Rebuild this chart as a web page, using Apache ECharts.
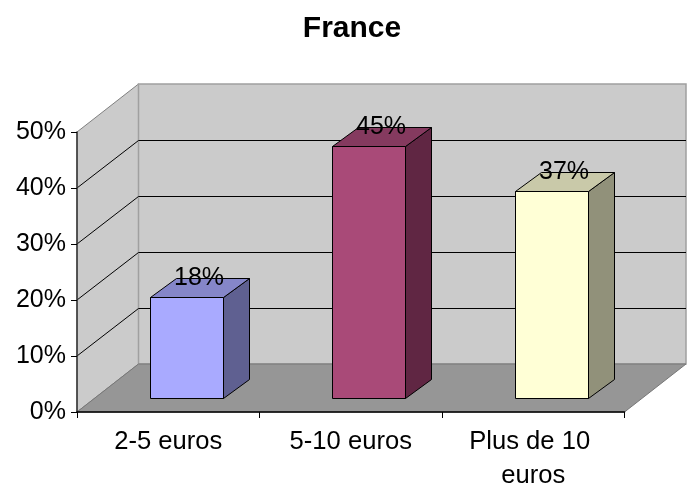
<!DOCTYPE html>
<html>
<head>
<meta charset="utf-8">
<title>France</title>
<script src="https://cdn.jsdelivr.net/npm/echarts@6/dist/echarts.min.js"></script>
<style>
  html, body { margin: 0; padding: 0; background: #fff; }
  #chart { width: 695px; height: 487px; }
</style>
</head>
<body>
<div id="chart"></div>
<script>
const categories = ['2-5 euros', '5-10 euros', 'Plus de 10 euros']
const shares = [18, 45, 37]
const gridValues = [10, 20, 30, 40]

// front, side, top of each bar
const barFaces = [
  ['#a9aaff', '#5f6091', '#8586c9'],
  ['#a94a78', '#602643', '#853a5f'],
  ['#ffffd6', '#91917a', '#c9c9a9']
]

const fontFamily = '"Liberation Sans", Arial, sans-serif'

// fake 3d: how far the back wall sits from the axes, and the depth of a bar
const wallDx = 61.5
const wallDy = 48
const barDx = 26
const barDy = 19
const barShiftX = 18
const barShiftY = 14
const barWidthRatio = 0.4

const chart = echarts.init(document.getElementById('chart'))

// keep 1px lines on a single pixel row
function crisp(v) {
  return Math.round(v) + 0.5
}

function poly(points, fill, stroke, lineWidth) {
  return {
    type: 'polygon',
    shape: { points: points },
    style: { fill: fill, stroke: stroke || 'none', lineWidth: lineWidth || 0 }
  }
}

function renderWalls(params, api) {
  const cs = params.coordSys
  const left = cs.x
  const right = cs.x + cs.width
  const y0 = api.coord([0, 0])[1]
  const yTop = api.coord([0, 50])[1]
  return {
    type: 'group',
    children: [
      poly([[left, y0], [left + wallDx, y0 - wallDy], [left + wallDx, yTop - wallDy], [left, yTop]], '#cbcbcb', '#808080', 1),
      poly([[left + wallDx, y0 - wallDy], [right + wallDx, y0 - wallDy], [right + wallDx, yTop - wallDy], [left + wallDx, yTop - wallDy]], '#cbcbcb', '#a0a0a0', 1.5),
      poly([[left, y0], [right, y0], [right + wallDx, y0 - wallDy], [left + wallDx, y0 - wallDy]], '#969696', '#777777', 1)
    ]
  }
}

function renderGridLine(params, api) {
  const cs = params.coordSys
  const y = api.coord([0, api.value(0)])[1]
  const backY = crisp(y - wallDy)
  return {
    type: 'polyline',
    shape: {
      points: [[cs.x, y], [cs.x + wallDx, backY], [cs.x + cs.width + wallDx, backY]]
    },
    style: { fill: 'none', stroke: '#000', lineWidth: 1 }
  }
}

function renderBar(params, api) {
  const idx = api.value(0)
  const val = api.value(1)
  const top = api.coord([idx, val])
  const base = api.coord([idx, 0])
  const w = api.size([1, 0])[0] * barWidthRatio
  const x1 = crisp(top[0] + barShiftX - w / 2)
  const x2 = crisp(top[0] + barShiftX + w / 2)
  const yT = crisp(top[1] - barShiftY)
  const yB = crisp(base[1] - barShiftY)
  const faces = barFaces[idx]
  return {
    type: 'group',
    children: [
      poly([[x1, yT], [x2, yT], [x2, yB], [x1, yB]], faces[0], '#000', 1),
      poly([[x2, yT], [x2 + barDx, yT - barDy], [x2 + barDx, yB - barDy], [x2, yB]], faces[1], '#000', 1),
      poly([[x1, yT], [x1 + barDx, yT - barDy], [x2 + barDx, yT - barDy], [x2, yT]], faces[2], '#000', 1),
      {
        type: 'text',
        x: (x1 + x2) / 2 + 12,
        y: yT - 19,
        style: {
          text: val + '%',
          fill: '#000',
          font: '25px ' + fontFamily,
          align: 'center',
          verticalAlign: 'middle'
        }
      }
    ]
  }
}

chart.setOption({
  animation: false,
  backgroundColor: '#fff',
  title: {
    text: 'France',
    left: 347,
    top: 9,
    textAlign: 'center',
    textStyle: { fontFamily: fontFamily, fontSize: 30, fontWeight: 'bold', color: '#000' }
  },
  grid: { left: 77, right: 70.5, top: 132, bottom: 75, outerBoundsMode: 'none' },
  xAxis: {
    type: 'category',
    data: categories,
    z: 5,
    axisLine: { lineStyle: { color: '#000', width: 1.5 } },
    axisTick: { show: true, alignWithLabel: false, length: 6, lineStyle: { color: '#000' } },
    axisLabel: {
      color: '#000',
      fontFamily: fontFamily,
      fontSize: 25.6,
      margin: 13,
      lineHeight: 34,
      interval: 0,
      width: 170,
      overflow: 'break'
    }
  },
  yAxis: {
    type: 'value',
    min: 0,
    max: 50,
    interval: 10,
    z: 5,
    axisLine: { show: true, lineStyle: { color: '#333', width: 1.5 } },
    axisTick: { show: true, length: 6, lineStyle: { color: '#000' } },
    splitLine: { show: false },
    axisLabel: {
      color: '#000',
      fontFamily: fontFamily,
      fontSize: 25,
      margin: 11,
      formatter: '{value}%'
    }
  },
  series: [
    { type: 'custom', z: 1, silent: true, clip: false, data: [[0]], renderItem: renderWalls },
    { type: 'custom', z: 2, silent: true, clip: false, data: gridValues.map(v => [v]), encode: { y: 0 }, renderItem: renderGridLine },
    { type: 'custom', z: 3, silent: true, clip: false, data: shares.map((v, i) => [i, v]), encode: { x: 0, y: 1 }, renderItem: renderBar }
  ]
})
</script>
</body>
</html>
